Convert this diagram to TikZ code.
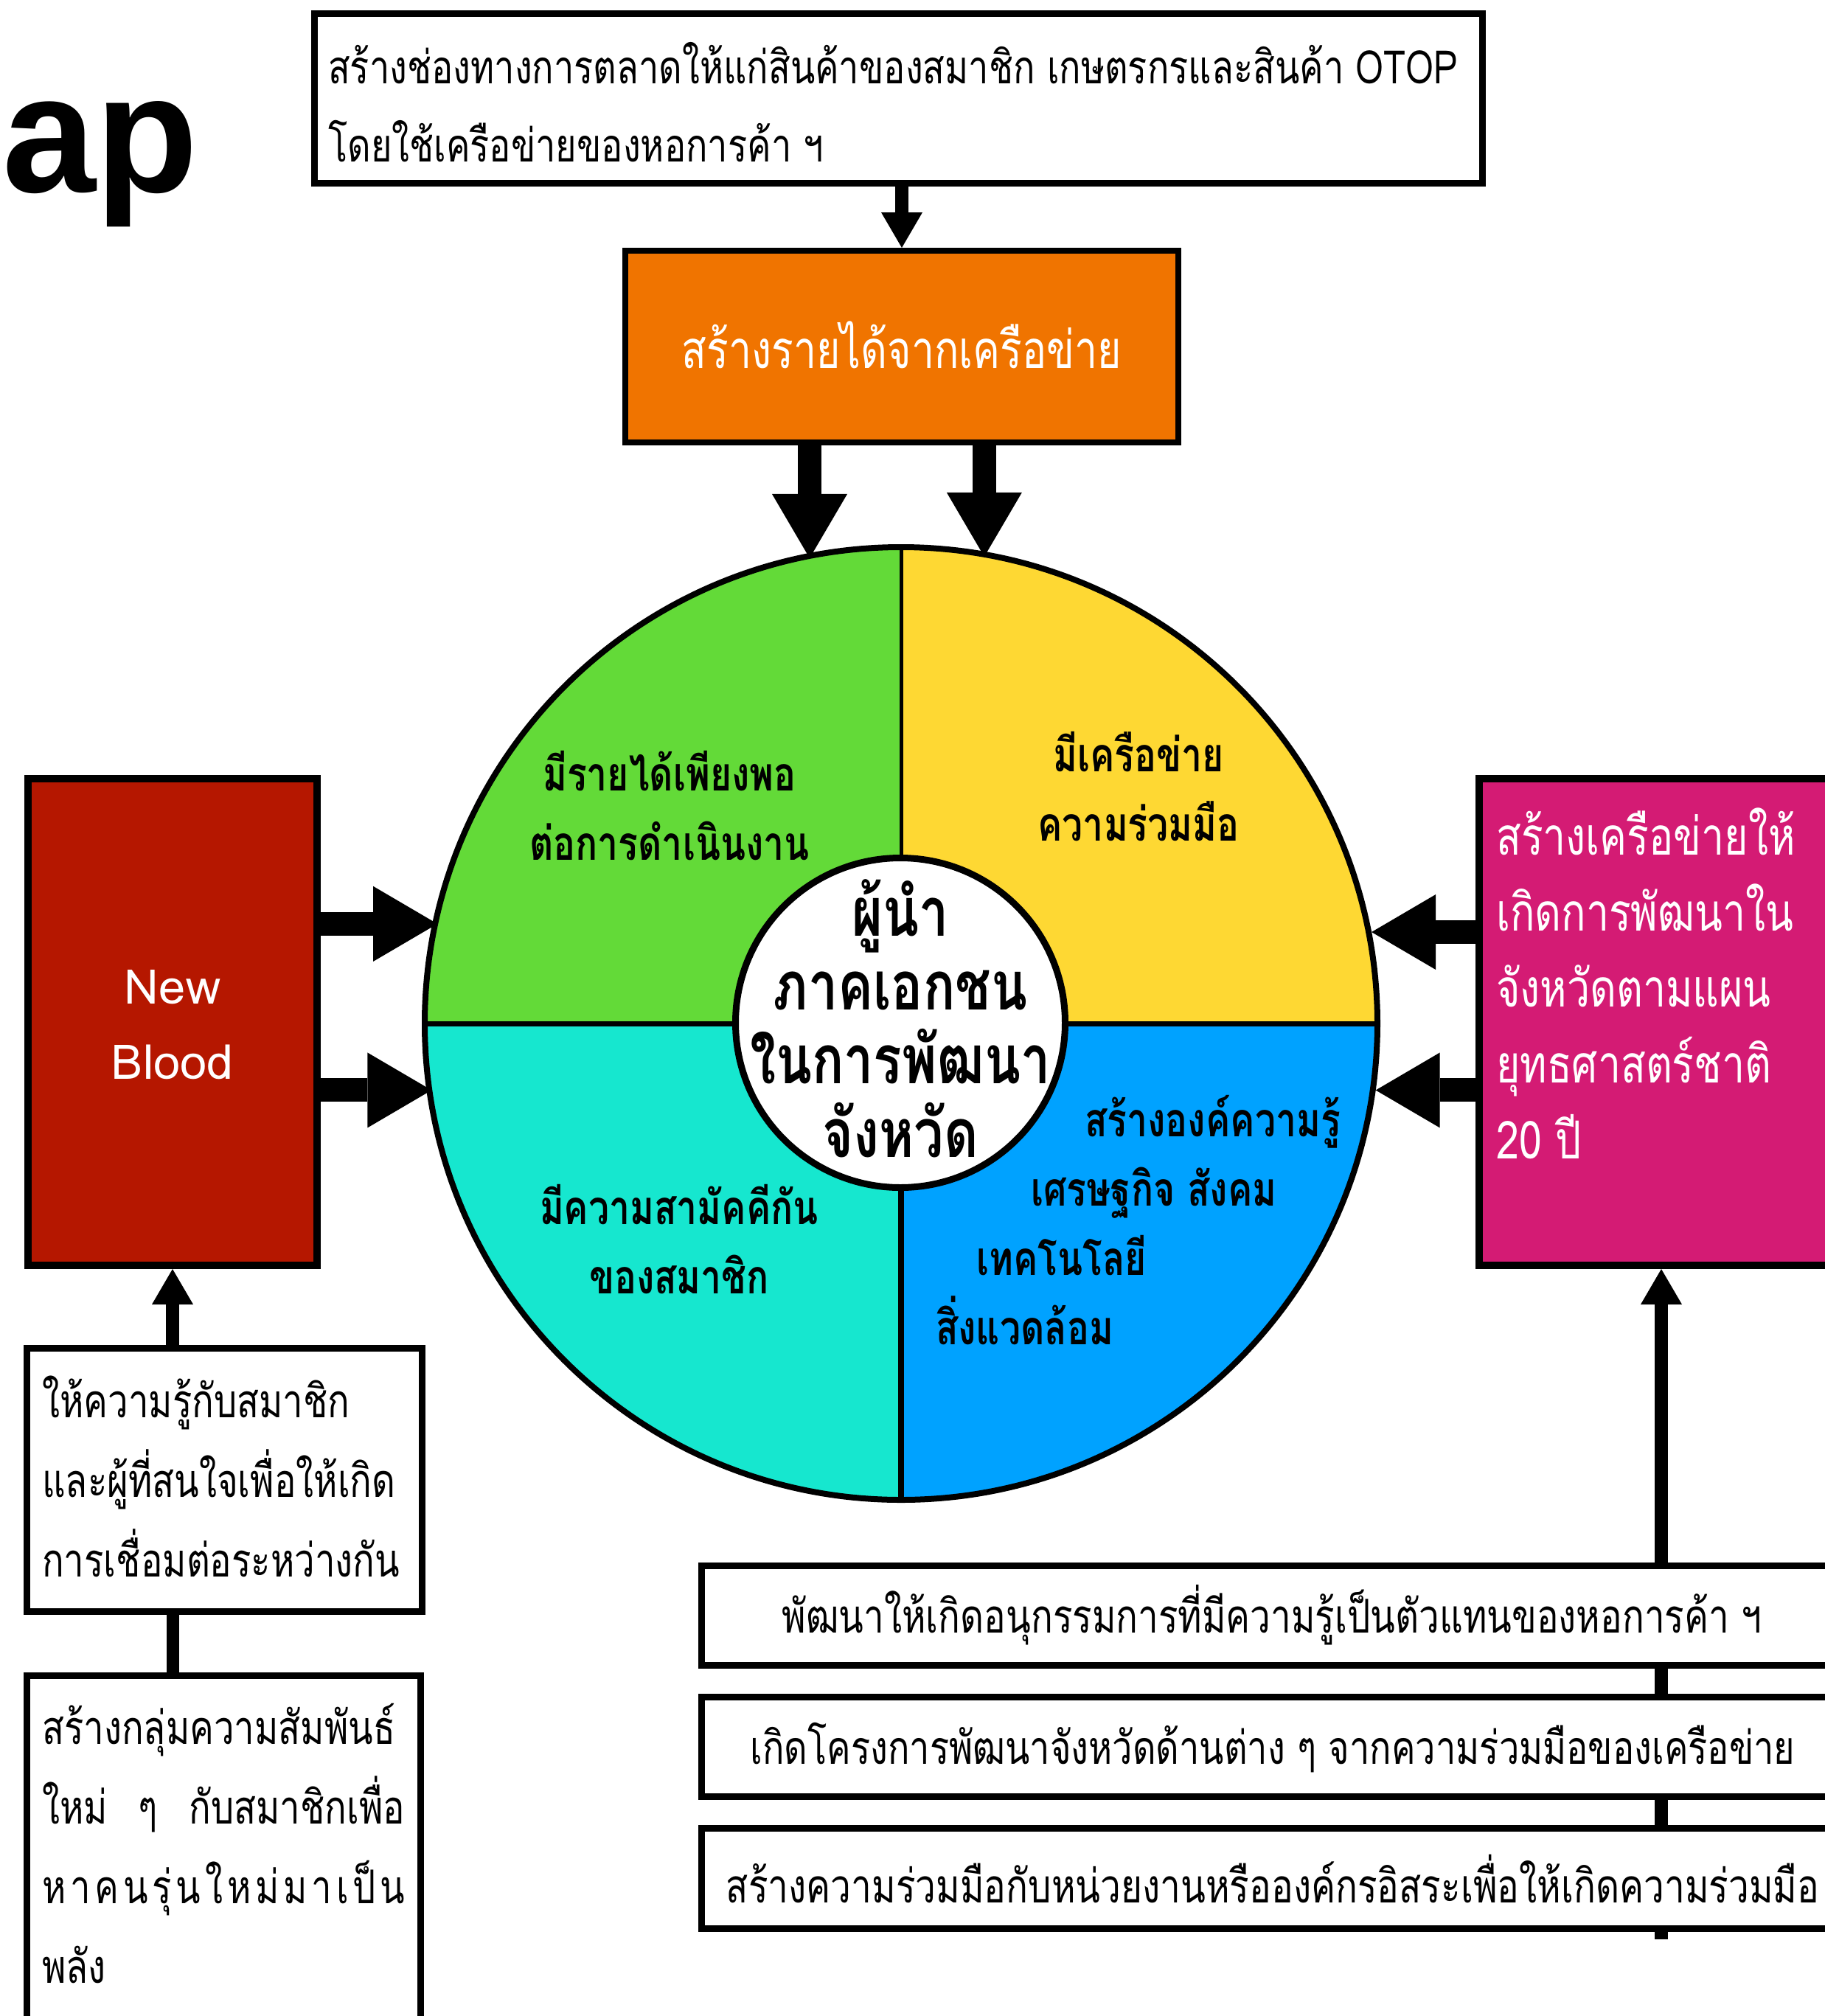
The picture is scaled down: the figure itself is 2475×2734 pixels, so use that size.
\documentclass[tikz,border=0pt]{standalone}
\usepackage{fontspec}
\usetikzlibrary{arrows.meta}
\newfontfamily\thai[Script=Thai, FakeStretch=0.78]{Loma}
\newfontfamily\thaiwide[Script=Thai]{Loma}
\newfontfamily\hel{Liberation Sans}
\definecolor{qgreen}{HTML}{63DA38}
\definecolor{qyellow}{HTML}{FED833}
\definecolor{qcyan}{HTML}{16E7CF}
\definecolor{qblue}{HTML}{00A2FF}
\definecolor{boxred}{HTML}{B51700}
\definecolor{boxmag}{HTML}{D41B74}
\definecolor{boxorange}{HTML}{F07400}
\begin{document}
\begin{tikzpicture}[x=1pt,y=-1pt,
  framebox/.style={draw=black, line width=9pt, fill=white, inner sep=0pt},
  regtext/.style={font={\thai\fontsize{63}{108}\selectfont}, inner sep=0pt, align=left},
  quadtext/.style={font={\thai\bfseries\fontsize{64}{94}\selectfont}, inner sep=0pt, align=center},
  bigarrow/.style={line width=32pt, -{Triangle[width=102pt,length=87pt,line width=0pt]}},
  smallarrow/.style={line width=18pt, -{Triangle[width=56pt,length=48pt,line width=0pt]}}]
\useasboundingbox (0,0) rectangle (2475,2734);
\clip (0,0) rectangle (2475,2734);

% title fragment
\node[font={\hel\bfseries\fontsize{228}{228}\selectfont}, anchor=base west, inner sep=0pt] (title) at (3,260) {ap};

% right vertical connector (behind boxes)
\coordinate (lineend) at (2253,2630);

% boxes
\node[framebox, minimum width=1584pt, minimum height=230pt] (topbox) at (1218.5,133.5) {};
\node[framebox, fill=boxorange, line width=8pt, minimum width=750pt, minimum height=260pt] (orange) at (1223,470) {};
\node[framebox, fill=boxred, line width=10pt, minimum width=392pt, minimum height=660pt] (red) at (234,1386) {};
\node[framebox, fill=boxmag, line width=10pt, minimum width=479pt, minimum height=660pt] (mag) at (2245.5,1386) {};
\node[framebox, minimum width=536pt, minimum height=357pt] (lbox1) at (304.5,2007) {};
\node[framebox, minimum width=534pt, minimum height=523pt] (lbox2) at (303.5,2534) {};

\draw[smallarrow] (lineend) -- (lineend |- mag.south);
\node[framebox, minimum width=1547pt, minimum height=135pt] (rbox1) at (1725,2191) {};
\node[framebox, minimum width=1547pt, minimum height=135pt] (rbox2) at (1725,2369) {};
\node[framebox, minimum width=1547pt, minimum height=136pt] (rbox3) at (1725,2547.5) {};

% ring
\begin{scope}
\clip (1222,1388) circle[radius=646pt];
\fill[qgreen] (560,730) rectangle (1222,1388);
\fill[qyellow] (1222,730) rectangle (1890,1388);
\fill[qcyan] (560,1388) rectangle (1222,2050);
\fill[qblue] (1222,1388) rectangle (1890,2050);
\end{scope}
\node[circle, draw, line width=8pt, minimum size=1292pt, inner sep=0pt] (ring) at (1222,1388) {};
\draw[line width=7pt] (ring.west) -- (ring.east);
\draw[line width=5pt] (ring.north) -- (ring.center);
\draw[line width=8pt] (ring.center) -- (ring.south);
\node[circle, draw, fill=white, line width=9pt, minimum size=447pt, inner sep=0pt] (leader) at (1221,1387) {};

% arrows
\draw[smallarrow] (topbox.south -| orange.north) -- (orange.north);
\draw[bigarrow, shorten >=-7pt] (ring.101.3 |- orange.south) -- (ring.101.3);
\draw[bigarrow, shorten >=-7pt] (ring.80.2 |- orange.south) -- (ring.80.2);
\draw[bigarrow, shorten >=-7pt] (ring.168.8 -| red.east) -- (ring.168.8);
\draw[bigarrow, shorten >=-7pt] (ring.188.3 -| red.east) -- (ring.188.3);
\draw[bigarrow] (ring.11.2 -| mag.west) -- (ring.11.2);
\draw[bigarrow] (ring.-8.3 -| mag.west) -- (ring.-8.3);
\draw[smallarrow] (red.south |- lbox1.north) -- (red.south);
\draw[line width=17pt] (red.south |- lbox1.south) -- (red.south |- lbox2.north);

% texts
\node[regtext, font={\thai\fontsize{62.5}{106}\selectfont}, anchor=west] (toptext) at (445,139)
  {สร้างช่องทางการตลาดให้แก่สินค้าของสมาชิก เกษตรกรและสินค้า OTOP\\โดยใช้เครือข่ายของหอการค้า ฯ};
\node[regtext, font={\thai\fontsize{71}{80}\selectfont}, text=white] (orangetext) at (1223,468) {สร้างรายได้จากเครือข่าย};
\node[quadtext] (greentext) at (908,1093) {มีรายได้เพียงพอ\\ต่อการดำเนินงาน};
\node[quadtext] (yellowtext) at (1544,1067) {มีเครือข่าย\\ความร่วมมือ};
\node[quadtext] (cyantext) at (921,1681) {มีความสามัคคีกัน\\ของสมาชิก};
\node[quadtext, align=left, anchor=west] (bluetext) at (1269,1655)
  {\hspace*{202pt}สร้างองค์ความรู้\\\hspace*{129pt}เศรษฐกิจ สังคม\\\hspace*{55pt}เทคโนโลยี\\สิ่งแวดล้อม};
\node[quadtext, font={\thai\bfseries\fontsize{92}{100}\selectfont}] (leadertext) at (1221,1381)
  {ผู้นำ\\ภาคเอกชน\\ในการพัฒนา\\จังหวัด};
\node[regtext, align=center, font={\thaiwide\fontsize{65}{102}\selectfont}, text=white] (redtext) at (234,1390) {New\\Blood};
\node[regtext, font={\thai\fontsize{71}{103}\selectfont}, text=white, anchor=west] (magtext) at (2029,1334)
  {สร้างเครือข่ายให้\\เกิดการพัฒนาใน\\จังหวัดตามแผน\\ยุทธศาสตร์ชาติ\\20 ปี};
\node[regtext, anchor=west] (lbox1text) at (57,2002)
  {ให้ความรู้กับสมาชิก\\และผู้ที่สนใจเพื่อให้เกิด\\การเชื่อมต่อระหว่างกัน};
\node[regtext, anchor=west] (lbox2text) at (57,2500)
  {\makebox[492pt][s]{สร้างกลุ่มความสัมพันธ์}\\\makebox[492pt][s]{ใหม่ \ ๆ \ กับสมาชิกเพื่อ}\\\makebox[492pt][s]{ห\hfill า\hfill ค\hfill น\hfill รุ่\hfill น\hfill ใ\hfill ห\hfill ม่\hfill ม\hfill า\hfill เ\hfill ป็\hfill น}\\พลัง};
\node[regtext, font={\thai\fontsize{63.3}{108}\selectfont}] (rbox1text) at (1725,2190) {พัฒนาให้เกิดอนุกรรมการที่มีความรู้เป็นตัวแทนของหอการค้า ฯ};
\node[regtext, font={\thai\fontsize{62.5}{108}\selectfont}] (rbox2text) at (1726,2370) {เกิดโครงการพัฒนาจังหวัดด้านต่าง ๆ จากความร่วมมือของเครือข่าย};
\node[regtext, font={\thai\fontsize{63.5}{108}\selectfont}] (rbox3text) at (1726,2548) {สร้างความร่วมมือกับหน่วยงานหรือองค์กรอิสระเพื่อให้เกิดความร่วมมือ};
\end{tikzpicture}
\end{document}
